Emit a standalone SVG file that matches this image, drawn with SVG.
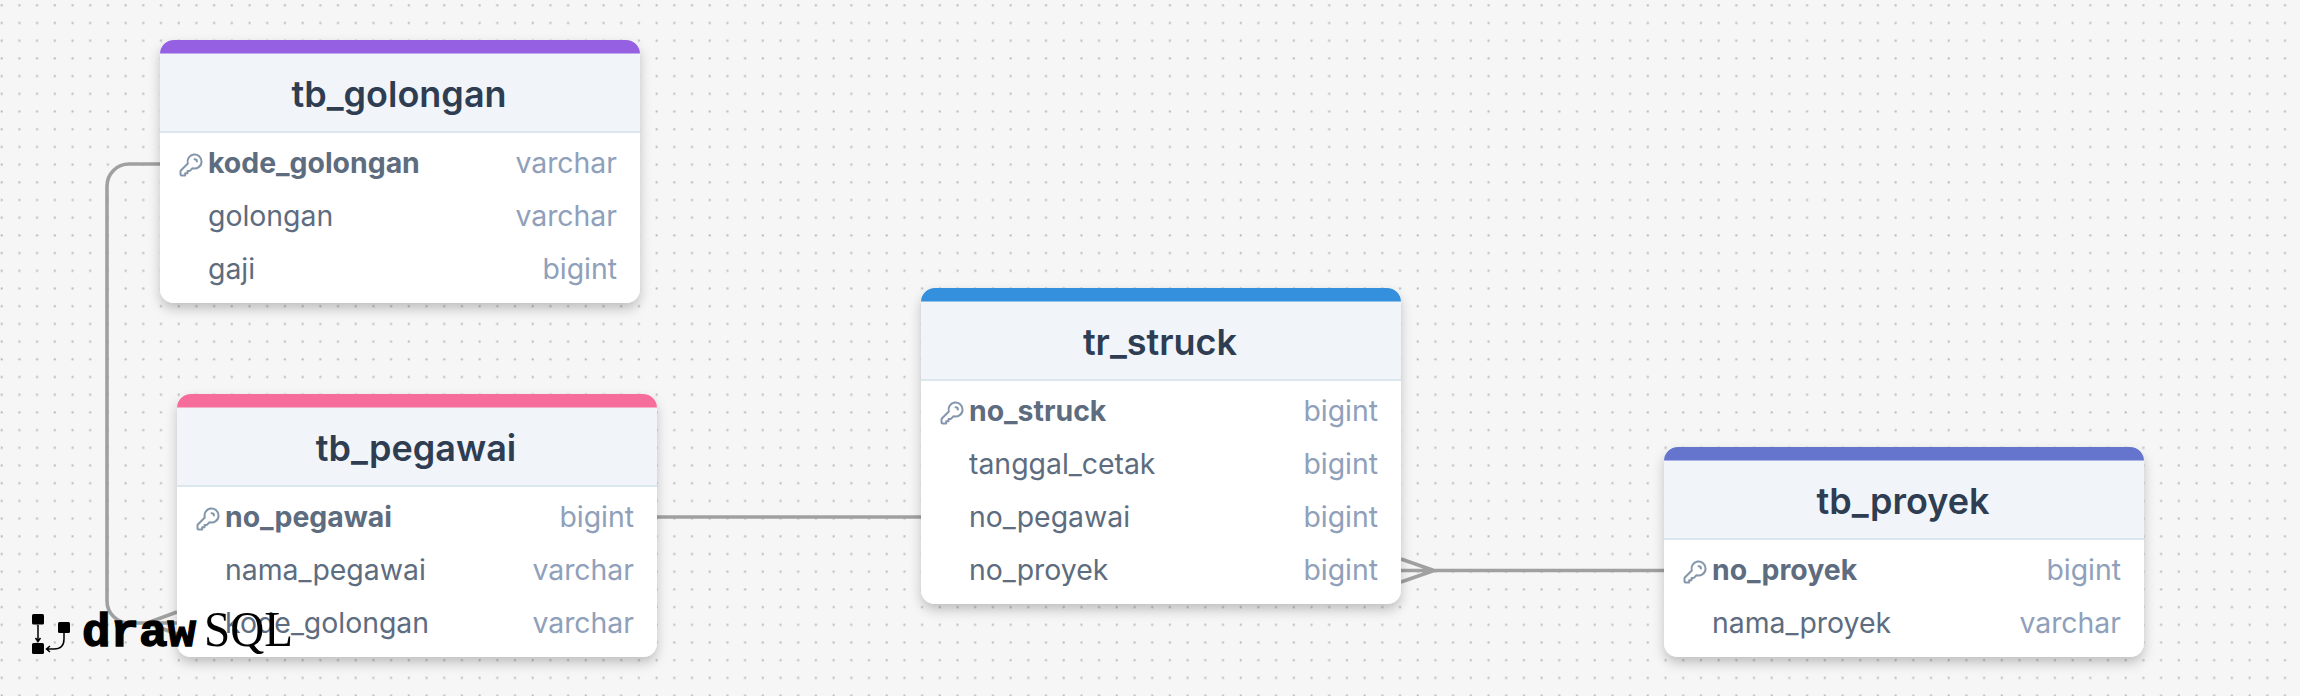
<svg xmlns="http://www.w3.org/2000/svg" width="2300" height="696" viewBox="0 0 2300 696">
<style>
.bg{fill:#f6f6f6}
.body{fill:#fff}
.head{fill:#f1f5f9}
.rule{fill:#dce6ef}
.title{font:600 36px Inter,"Liberation Sans",sans-serif;fill:#2f3d52;text-anchor:middle}
.name{font:400 28.400px Inter,"Liberation Sans",sans-serif;fill:#5d6c7e}
.pk{font-weight:700}
.type{font:400 28.400px Inter,"Liberation Sans",sans-serif;fill:#8fa0ba;text-anchor:end}
.key{fill:none;stroke:#8496ab;stroke-width:1.7;stroke-linecap:round;stroke-linejoin:round}
.wire{fill:none;stroke:#a0a0a0;stroke-width:3.600}
</style>
<defs>
<pattern id="dots" patternUnits="userSpaceOnUse" width="17.7" height="17.7"><rect x="0.7" y="4.3" width="2" height="2" fill="#b8b8b8"/></pattern>
<filter id="sh" x="-10%" y="-10%" width="120%" height="125%"><feDropShadow dx="0" dy="6" stdDeviation="6" flood-color="#000" flood-opacity="0.22"/></filter>
<path id="bar" d="M0 13.5V14A14 14 0 0 1 14 0H466A14 14 0 0 1 480 14V13.5Z"/>
<path id="keyicon" class="key" transform="scale(1.17)" d="M15 7a2 2 0 012 2m4 0a6 6 0 01-7.743 5.743L11 17H9v2H7v2H4a1 1 0 01-1-1v-2.586a1 1 0 01.293-.707l5.964-5.964A6 6 0 1121 9z"/>
</defs>
<rect class="bg" width="2300" height="696"/>
<rect fill="url(#dots)" width="2300" height="696"/>
<g id="connectors">
<path class="wire" d="M160 164H129A22 22 0 0 0 107 186V601A22 22 0 0 0 129 623H177M177 612L147 623L177 634"/>
<path class="wire" d="M657 517H921"/>
<path class="wire" d="M1401 570.500H1664M1401 559L1434 570.500L1401 582"/>
</g>
<g id="tb_golongan" transform="translate(160 40)">
<rect class="body" width="480" height="263" rx="14" filter="url(#sh)"/>
<path class="head" d="M0 13H480V92H0Z"/>
<rect class="rule" y="91" width="480" height="2"/>
<use href="#bar" fill="#9561e2"/>
<text class="title" x="239" y="67">tb_golongan</text>
<use href="#keyicon" x="17" y="111"/>
<text class="name pk" x="48" y="132.500">kode_golongan</text><text class="type" x="457" y="132.500">varchar</text>
<text class="name" x="48" y="185.500">golongan</text><text class="type" x="457" y="185.500">varchar</text>
<text class="name" x="48" y="238.500">gaji</text><text class="type" x="457" y="238.500">bigint</text>
</g>
<g id="tb_pegawai" transform="translate(177 394)">
<rect class="body" width="480" height="263" rx="14" filter="url(#sh)"/>
<path class="head" d="M0 13H480V92H0Z"/>
<rect class="rule" y="91" width="480" height="2"/>
<use href="#bar" fill="#f66d9b"/>
<text class="title" x="239" y="67">tb_pegawai</text>
<use href="#keyicon" x="17" y="111"/>
<text class="name pk" x="48" y="132.500">no_pegawai</text><text class="type" x="457" y="132.500">bigint</text>
<text class="name" x="48" y="185.500">nama_pegawai</text><text class="type" x="457" y="185.500">varchar</text>
<text class="name" x="48" y="238.500">kode_golongan</text><text class="type" x="457" y="238.500">varchar</text>
</g>
<g id="tr_struck" transform="translate(921 288)">
<rect class="body" width="480" height="316" rx="14" filter="url(#sh)"/>
<path class="head" d="M0 13H480V92H0Z"/>
<rect class="rule" y="91" width="480" height="2"/>
<use href="#bar" fill="#3490dc"/>
<text class="title" x="239" y="67">tr_struck</text>
<use href="#keyicon" x="17" y="111"/>
<text class="name pk" x="48" y="132.500">no_struck</text><text class="type" x="457" y="132.500">bigint</text>
<text class="name" x="48" y="185.500">tanggal_cetak</text><text class="type" x="457" y="185.500">bigint</text>
<text class="name" x="48" y="238.500">no_pegawai</text><text class="type" x="457" y="238.500">bigint</text>
<text class="name" x="48" y="291.500">no_proyek</text><text class="type" x="457" y="291.500">bigint</text>
</g>
<g id="tb_proyek" transform="translate(1664 447)">
<rect class="body" width="480" height="210" rx="14" filter="url(#sh)"/>
<path class="head" d="M0 13H480V92H0Z"/>
<rect class="rule" y="91" width="480" height="2"/>
<use href="#bar" fill="#6574cd"/>
<text class="title" x="239" y="67">tb_proyek</text>
<use href="#keyicon" x="17" y="111"/>
<text class="name pk" x="48" y="132.500">no_proyek</text><text class="type" x="457" y="132.500">bigint</text>
<text class="name" x="48" y="185.500">nama_proyek</text><text class="type" x="457" y="185.500">varchar</text>
</g>
<g id="logo">
<rect x="32" y="614" width="12" height="10.500" rx="1.500"/>
<rect x="32" y="643" width="12" height="11" rx="1.500"/>
<rect x="58" y="622" width="12" height="11" rx="1.500"/>
<path d="M38 625V641M35.500 638L38 641.500L40.500 638M64 633V639Q64 649 54 649H47M50 646L46.500 649L50 652" fill="none" stroke="#000" stroke-width="1.500"/>
<text x="82" y="646" font-family="'Liberation Mono',monospace" font-weight="700" font-size="47" stroke="#000" stroke-width="1.400" textLength="114" lengthAdjust="spacingAndGlyphs">draw</text>
<text x="204" y="646" font-family="'Liberation Serif',serif" font-weight="400" font-size="50" textLength="89" lengthAdjust="spacingAndGlyphs">SQL</text>
</g>
</svg>
